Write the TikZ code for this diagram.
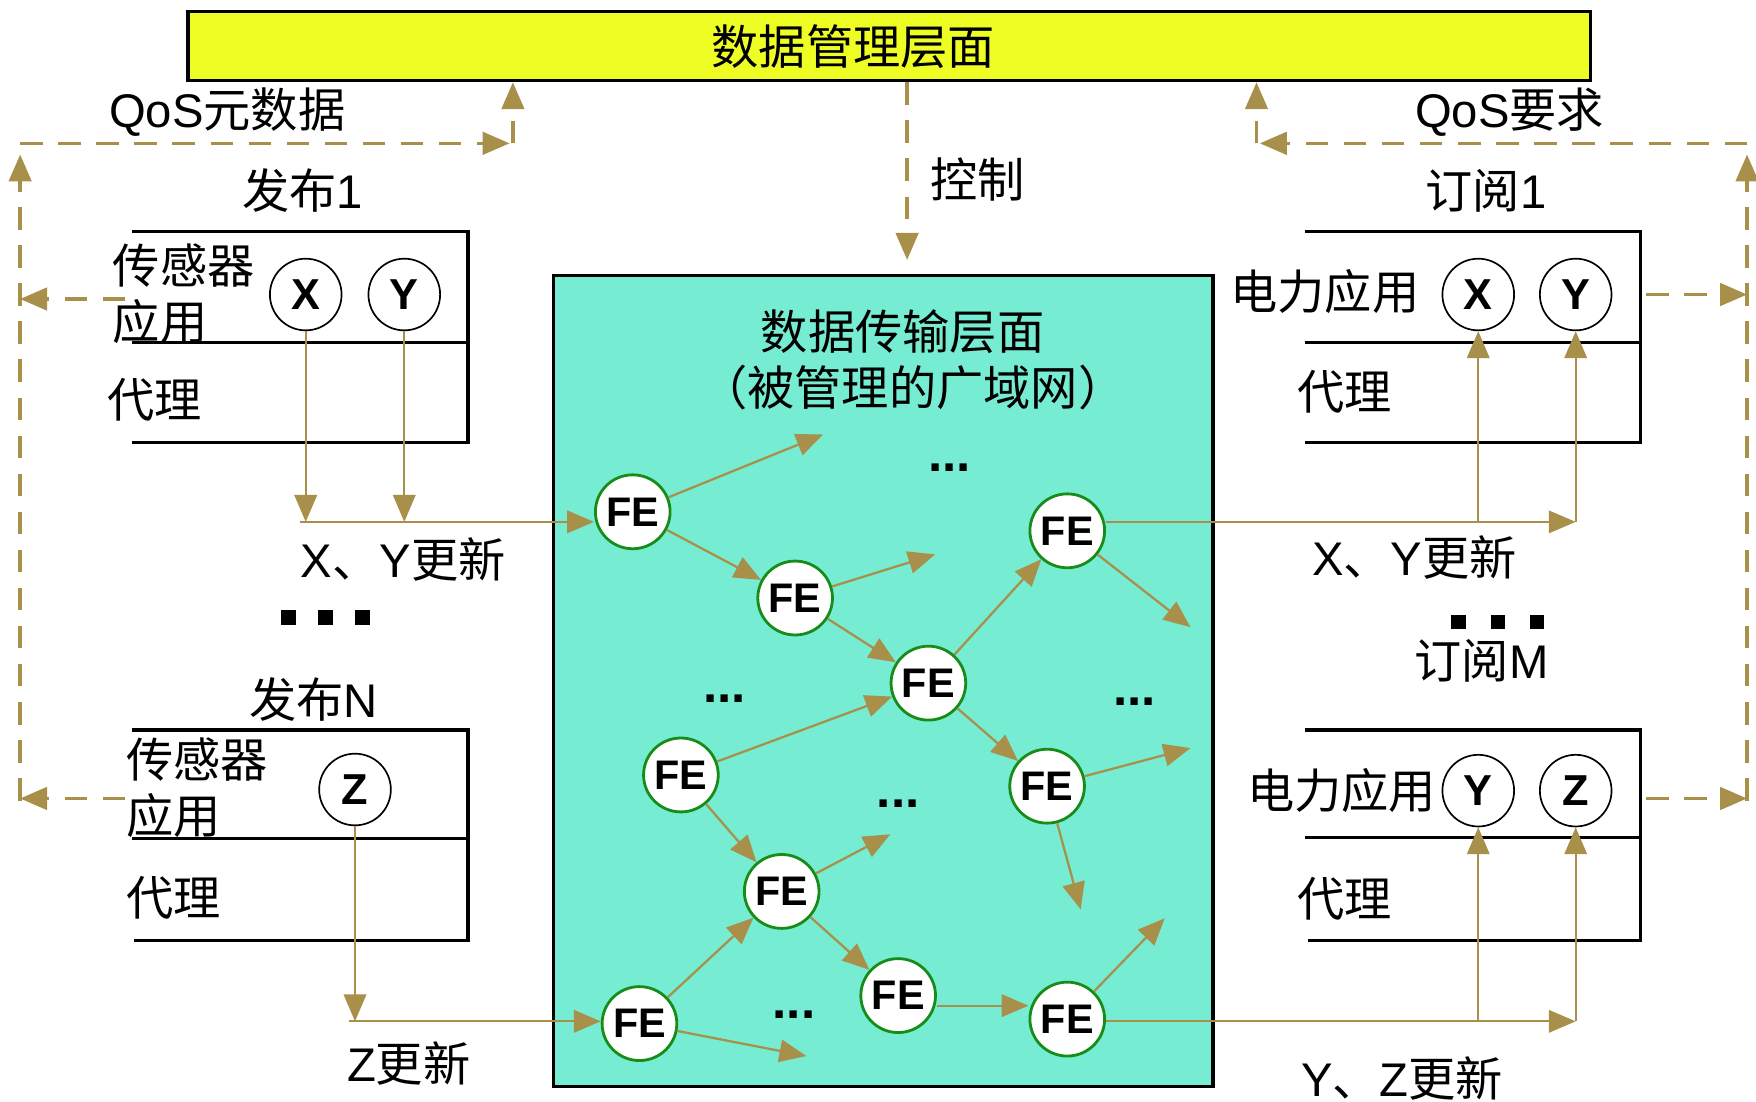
\documentclass[tikz,border=0pt]{standalone}
\usepackage{fontspec}
\setmainfont{Liberation Sans}
\newfontfamily\cjk{Noto Sans CJK SC}
\usetikzlibrary{arrows.meta,shapes.geometric,positioning}

\definecolor{mgmtyellow}{RGB}{238,254,36}
\definecolor{wanteal}{RGB}{118,236,210}
\definecolor{linkbrown}{RGB}{168,143,74}
\definecolor{fegreen}{RGB}{24,140,24}

\newcommand\zh[1]{{\cjk #1}}

\tikzset{
  lbl/.style={inner sep=0pt, font=\fontsize{12}{14.2}\selectfont},
  fe/.style={ellipse, draw=fegreen, line width=0.25mm, fill=white, minimum width=6.2mm,
    minimum height=6.6mm, inner sep=0pt, font=\fontsize{10.5}{10.5}\selectfont\bfseries},
  topic/.style={circle, draw, line width=0.15mm, minimum size=6.4mm, inner sep=0pt,
    font=\fontsize{11}{11}\selectfont\bfseries},
  flow/.style={linkbrown, line width=0.2mm, -{Triangle[length=2.4mm,width=2mm]}},
  qos/.style={flow, line width=0.3mm, dash pattern=on 2mm off 1.4mm},
  box/.style={line width=0.3mm},
}

\begin{document}
\begin{tikzpicture}[x=0.1mm, y=-0.1mm]
  \useasboundingbox (0,0) rectangle (1568,984);

  \node[draw, box, fill=mgmtyellow, minimum width=125.2mm, minimum height=6.2mm] (mgmt) at (794,41) {};
  \node[lbl] (mgmttxt) at (762,42) {\zh{数据管理层面}};

  \node[draw, box, fill=wanteal, minimum width=58.9mm, minimum height=72.4mm] (wan) at (788.5,608) {};
  \node[lbl] (wantitle) at (806,296) {\zh{数据传输层面}};
  \node[lbl] (wansub) at (815,346) {\zh{（被管理的广域网）}};

  \foreach \n/\p in {1/{(565,457)},2/{(710,534)},3/{(953,474)},4/{(829,610)},5/{(608,692)},
                     6/{(935,702)},7/{(698,796)},8/{(802,889)},9/{(571,914)},10/{(953,910)}}
    \node[fe] (F\n) at \p {FE};

  \foreach \a/\b in {1/2,2/4,4/3,4/6,5/4,5/7,7/8,9/7}
    \draw[flow] (F\a) -- (F\b);
  \draw[flow] (F8.east |- 0,898) -- (F10.west |- 0,898);

  \coordinate (s1) at (735,388);
  \coordinate (s2) at (835,495);
  \coordinate (s3) at (1063,560);
  \coordinate (s4) at (1063,668);
  \coordinate (s5) at (965,812);
  \coordinate (s6) at (795,745);
  \coordinate (s7) at (720,943);
  \coordinate (s8) at (1040,820);
  \foreach \a/\s in {1/1,2/2,3/3,6/4,6/5,7/6,9/7,10/8}
    \draw[flow] (F\a) -- (s\s);

  \foreach \p/\d in {{(848,418)}/1,{(647,624)}/2,{(1013,627)}/3,{(802,718)}/4,{(709,906)}/5}
    \node[inner sep=0pt, font=\fontsize{13}{13}\selectfont\bfseries] (dots\d) at \p {...};

  % publishers
  \draw[box] (118,207) -| (418,395) -- (118,395);
  \draw[box] (118,306) -- (418,306);
  \node[lbl] (pub1) at (270,170) {\zh{发布}1};
  \node[lbl, align=left, anchor=west] (sen1) at (100,262) {\zh{传感器}\\\zh{应用}};
  \node[lbl, anchor=west] (agt1) at (95,357) {\zh{代理}};
  \node[topic] (X1) at (273,263) {X};
  \node[topic] (Y1) at (361,263) {Y};

  \draw[box] (118,652) -| (418,840) -- (120,840);
  \draw[box] (118,749) -- (418,749);
  \node[lbl] (pubN) at (280,625) {\zh{发布}N};
  \node[lbl, align=left, anchor=west] (senN) at (112,703) {\zh{传感器}\\\zh{应用}};
  \node[lbl, anchor=west] (agtN) at (112,802) {\zh{代理}};
  \node[topic] (Z1) at (317,705) {Z};

  \foreach \i in {0,1,2} {
    \fill (251+33*\i,545) rectangle ++(13,13);
    \fill (1296+35*\i,549) rectangle ++(13,13);
  }

  % subscribers
  \draw[box] (1165,207) -| (1465,395) -- (1165,395);
  \draw[box] (1165,306) -- (1465,306);
  \node[lbl] (sub1) at (1327,170) {\zh{订阅}1};
  \node[lbl, anchor=west] (app1) at (1098,260) {\zh{电力应用}};
  \node[lbl, anchor=west] (agt2) at (1158,350) {\zh{代理}};
  \node[topic] (X2) at (1320,263) {X};
  \node[topic] (Y2) at (1407,263) {Y};

  \draw[box] (1165,652) -| (1465,840) -- (1168,840);
  \draw[box] (1165,748) -- (1465,748);
  \node[lbl] (subM) at (1323,590) {\zh{订阅}M};
  \node[lbl, anchor=west] (appM) at (1113,706) {\zh{电力应用}};
  \node[lbl, anchor=west] (agtM) at (1158,803) {\zh{代理}};
  \node[topic] (Y3) at (1320,706) {Y};
  \node[topic] (Z3) at (1407,706) {Z};

  % updates
  \coordinate (xyin) at (268,466);
  \draw[flow] (X1) -- (X1 |- xyin);
  \draw[flow] (Y1) -- (Y1 |- xyin);
  \draw[flow] (xyin) -- (xyin -| F1.west);
  \node[lbl] (xyupd1) at (360,500) {X\zh{、}Y\zh{更新}};

  \coordinate (zin) at (312,912);
  \draw[flow] (Z1) -- (Z1 |- zin);
  \draw[flow] (zin) -- (zin -| F9.west);
  \node[lbl] (zupd) at (365,950) {Z\zh{更新}};

  \coordinate (xyout) at (1407,466);
  \draw[flow] (F3.east |- xyout) -- (xyout);
  \draw[flow] (xyout) -- (Y2);
  \draw[flow] (X2 |- xyout) -- (X2);
  \node[lbl] (xyupd2) at (1263,498) {X\zh{、}Y\zh{更新}};

  \coordinate (zout) at (1407,912);
  \draw[flow] (F10.east |- zout) -- (zout);
  \draw[flow] (zout) -- (Z3);
  \draw[flow] (Y3 |- zout) -- (Y3);
  \node[lbl] (yzupd) at (1252,963) {Y\zh{、}Z\zh{更新}};

  % qos
  \coordinate (qlt) at (18,128);
  \coordinate (qlb) at (18,715);
  \coordinate (qlm) at (458,128);
  \coordinate (qp1) at (112,267);
  \coordinate (qpN) at (112,713);
  \draw[qos, shorten >=1mm] (qlb) -- (qlt);
  \draw[qos, shorten >=0.3mm] (qlt) -- (qlm);
  \draw[qos] (qlm) -- (qlm |- mgmt.south);
  \draw[qos] (qp1) -- (qp1 -| qlt);
  \draw[qos] (qpN) -- (qpN -| qlt);
  \node[lbl] (qosmeta) at (203,100) {QoS\zh{元数据}};

  \coordinate (qrt) at (1560,128);
  \coordinate (qrb) at (1560,715);
  \coordinate (qrm) at (1122,128);
  \coordinate (qs1) at (1470,263);
  \coordinate (qsM) at (1470,713);
  \draw[qos, shorten >=1mm] (qrb) -- (qrt);
  \draw[qos, shorten >=0.3mm] (qrt) -- (qrm);
  \draw[qos] (qrm) -- (qrm |- mgmt.south);
  \draw[qos] (qs1) -- (qs1 -| qrt);
  \draw[qos] (qsM) -- (qsM -| qrt);
  \node[lbl] (qosreq) at (1348,100) {QoS\zh{要求}};

  \coordinate (ctl) at (810,232);
  \draw[qos] (ctl |- mgmt.south) -- (ctl);
  \node[lbl] (ctltxt) at (873,160) {\zh{控制}};
\end{tikzpicture}
\end{document}
